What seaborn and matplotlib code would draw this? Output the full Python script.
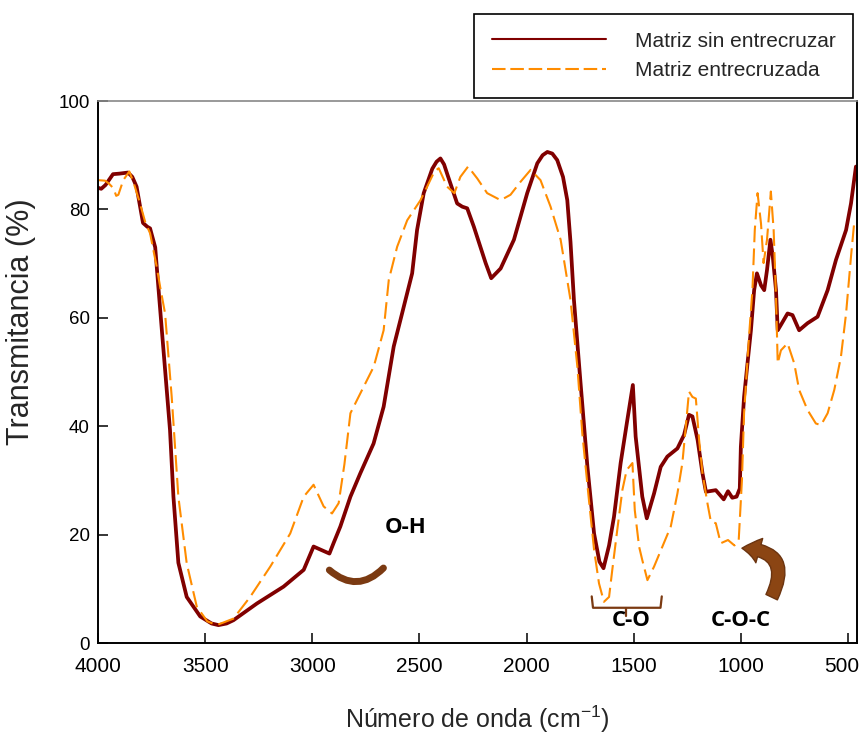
import matplotlib
matplotlib.use("Agg")
import matplotlib.pyplot as plt
import matplotlib.transforms as mtransforms
import seaborn as sns
import pandas as pd
from matplotlib.patches import FancyArrowPatch
from matplotlib.lines import Line2D

# ---- data ----
wn_sin = [4000, 3985, 3965, 3930, 3900, 3860, 3840, 3820, 3790, 3770, 3757, 3733, 3720,
          3702, 3664, 3648, 3625, 3586, 3523, 3470, 3438, 3400, 3368, 3258, 3134, 3040,
          2994, 2960, 2920, 2900, 2869, 2822, 2776, 2714, 2667, 2620, 2581, 2534, 2511,
          2480, 2440, 2420, 2402, 2385, 2370, 2324, 2300, 2277, 2246, 2191, 2165, 2121,
          2059, 1997, 1950, 1925, 1903, 1880, 1857, 1830, 1810, 1795, 1779, 1748, 1716,
          1685, 1660, 1641, 1615, 1592, 1561, 1530, 1504, 1491, 1460, 1439, 1405, 1374,
          1343, 1296, 1265, 1242, 1226, 1202, 1179, 1163, 1117, 1080, 1060, 1040, 1020,
          1005, 1000, 985, 969, 953, 938, 925, 906, 891, 878, 862, 851, 836, 828, 813, 782,
          759, 728, 689, 642, 595, 556, 509, 486, 463]
t_sin = [84.0, 83.8, 84.5, 86.5, 86.6, 86.8, 86.0, 84.2, 77.5, 76.8, 76.5, 73.0, 66.5,
         57.7, 39.3, 27.0, 14.8, 8.5, 4.9, 3.6, 3.3, 3.6, 4.2, 7.3, 10.4, 13.5,
         17.8, 17.2, 16.5, 18.5, 21.5, 27.0, 31.3, 36.8, 43.6, 54.7, 60.8, 68.2, 76.2,
         83.0, 87.5, 88.8, 89.4, 88.3, 86.5, 81.1, 80.5, 80.2, 76.8, 70.1, 67.3, 69.1,
         74.4, 83.0, 88.5, 90.0, 90.6, 90.3, 89.1, 86.0, 81.7, 74.0, 63.3, 47.9, 32.5,
         20.2, 15.0, 13.8, 18.0, 23.3, 33.2, 41.1, 47.6, 38.1, 27.0, 23.0, 27.6, 32.5,
         34.4, 35.9, 38.4, 42.1, 41.8, 37.5, 31.3, 27.9, 28.2, 26.5, 28.0, 26.8, 27.0,
         28.5, 36.2, 45.4, 51.6, 57.7, 65.1, 68.2, 66.0, 65.1, 68.8, 74.4, 71.3, 65.1,
         57.7, 58.7, 60.8, 60.5, 57.7, 59.0, 60.2, 65.1, 70.7, 76.2, 81.1, 87.9]

wn_ent = [4000, 3967, 3950, 3928, 3915, 3905, 3882, 3854, 3835, 3804, 3780, 3757, 3726,
          3710, 3687, 3656, 3625, 3586, 3539, 3490, 3446, 3368, 3290, 3196, 3103, 3040,
          2994, 2947, 2908, 2877, 2850, 2822, 2760, 2713, 2667, 2643, 2604, 2557, 2495,
          2464, 2430, 2410, 2371, 2337, 2309, 2273, 2230, 2184, 2121, 2075, 2028, 1981,
          1935, 1888, 1841, 1795, 1763, 1740, 1709, 1685, 1662, 1639, 1615, 1600, 1577,
          1553, 1533, 1506, 1495, 1475, 1460, 1436, 1405, 1366, 1327, 1296, 1273, 1257,
          1242, 1226, 1210, 1195, 1179, 1156, 1140, 1117, 1094, 1060, 1030, 1010, 995,
          985, 962, 946, 935, 922, 906, 894, 878, 860, 847, 836, 828, 813, 782, 751, 728,
          689, 650, 626, 595, 564, 533, 509, 486, 470]
t_ent = [85.4, 85.3, 84.8, 83.9, 82.5, 82.7, 85.4, 87.0, 85.1, 81.1, 77.7, 75.6, 69.4,
         65.7, 60.8, 45.4, 27.0, 14.7, 6.7, 4.0, 3.3, 4.5, 8.5, 14.1, 20.2, 27.0,
         29.2, 25.2, 23.9, 25.8, 33.0, 42.4, 47.3, 51.0, 57.7, 67.0, 73.1, 78.0, 81.7,
         84.2, 87.0, 87.6, 84.2, 83.0, 86.0, 87.9, 85.7, 83.0, 81.7, 82.7, 85.1, 87.3,
         85.4, 80.5, 74.4, 63.3, 51.0, 38.7, 26.4, 17.2, 11.0, 7.6, 8.5, 13.5, 20.8,
         28.2, 31.9, 33.2, 24.5, 17.8, 15.3, 11.6, 14.1, 17.8, 21.5, 27.6, 33.2, 39.9,
         46.4, 45.4, 45.1, 37.5, 31.3, 25.8, 22.4, 22.1, 18.4, 19.0, 18.0, 19.0, 30.0,
         42.4, 56.5, 65.1, 76.2, 83.0, 77.4, 70.1, 74.4, 83.3, 76.2, 63.9, 51.6, 54.0, 55.3,
         51.6, 46.7, 43.0, 40.5, 40.2, 42.4, 46.7, 52.8, 60.8, 71.3, 78.0]

series_labels = ["Matriz sin entrecruzar", "Matriz entrecruzada"]
x_ticks = [4000, 3500, 3000, 2500, 2000, 1500, 1000, 500]
y_ticks = [0, 20, 40, 60, 80, 100]

# ---- style ----
sns.set_theme(style="white")
plt.rcParams['font.family'] = ['Liberation Sans', 'DejaVu Sans']
plt.rcParams['mathtext.fontset'] = 'custom'
plt.rcParams['mathtext.rm'] = 'Liberation Sans'
plt.rcParams['mathtext.default'] = 'regular'

C_SIN = '#800000'
C_ENT = '#FF8C00'
BROWN = '#7B3A12'

fig = plt.figure(figsize=(8.62, 7.36), dpi=100)
ax = fig.add_axes([98 / 862, 93 / 736, 759 / 862, 542 / 736])

df_sin = pd.DataFrame({"wn": wn_sin, "t": t_sin})
df_ent = pd.DataFrame({"wn": wn_ent, "t": t_ent})
sns.lineplot(data=df_sin, x="wn", y="t", ax=ax, color=C_SIN, lw=2.7,
             sort=False, estimator=None, legend=False)
sns.lineplot(data=df_ent, x="wn", y="t", ax=ax, color=C_ENT, lw=1.5,
             sort=False, estimator=None, legend=False)
ax.lines[1].set_dashes([8, 3])

ax.set_xlim(4000, 458)
ax.set_ylim(0, 100)
ax.set_xticks(x_ticks)
ax.set_yticks(y_ticks)
ax.tick_params(axis='both', direction='in', length=7, width=1.1, colors='black',
               bottom=True, left=True, top=False, right=False)
ax.tick_params(axis='x', pad=10, labelsize=15)
ax.tick_params(axis='y', pad=6, labelsize=13.5)
# keep the last x tick label inside the canvas
last = ax.get_xticklabels()[-1]
last.set_transform(last.get_transform() +
                   mtransforms.ScaledTranslation(-6 / 100, 0, fig.dpi_scale_trans))
for s in ['left', 'bottom', 'right']:
    ax.spines[s].set_color('black')
    ax.spines[s].set_linewidth(1.4)
ax.spines['top'].set_color('#888888')
ax.spines['top'].set_linewidth(1.2)

ax.set_xlabel("Número de onda (cm$^{-1}$)", fontsize=18)
ax.xaxis.set_label_coords(0.5, -0.112)
ax.set_ylabel("Transmitancia (%)", fontsize=22)
ax.yaxis.set_label_coords(-0.082, 0.592)

# ---- annotations ----
ann_font = dict(fontsize=16, fontweight='bold', family=['Open Sans', 'DejaVu Sans'],
                color='black', ha='center', va='center')
ax.text(2565, 21.4, "O-H", **ann_font)
ax.text(1514, 4.1, "C-O", **ann_font)
ax.text(1000, 4.1, "C-O-C", **ann_font)

arc = FancyArrowPatch((2930, 13.8), (2659, 14.2), arrowstyle='-',
                      connectionstyle='arc3,rad=0.5', color=BROWN, lw=5,
                      capstyle='round')
ax.add_patch(arc)

# bracket under C-O
ax.plot([1696, 1690, 1375, 1369], [8.6, 6.5, 6.5, 8.6], color=BROWN, lw=1.6,
        solid_joinstyle='round')
ax.plot([1537, 1537], [6.5, 5.0], color=BROWN, lw=1.6)

curl = FancyArrowPatch((862, 8.0), (1008, 17.5),
                       arrowstyle='simple,tail_width=0.65,head_width=1.3,head_length=0.9',
                       connectionstyle='arc3,rad=0.8', mutation_scale=14,
                       facecolor='#8B4513', edgecolor='#6B3410', lw=1)
ax.add_patch(curl)

# ---- legend ----
handles = [Line2D([], [], color=C_SIN, lw=1.5),
           Line2D([], [], color=C_ENT, lw=1.5, dashes=[6.5, 2.3])]
leg = fig.legend(handles, series_labels, loc='upper right',
                 bbox_to_anchor=(853 / 862, 1 - 14 / 736), fontsize=15,
                 frameon=True, fancybox=False, framealpha=1, edgecolor='black',
                 handlelength=5.5, handletextpad=1.35, borderpad=0.85,
                 labelspacing=0.5, borderaxespad=0)
leg.get_frame().set_linewidth(1.2)

fig.savefig("out.png", dpi=100)
